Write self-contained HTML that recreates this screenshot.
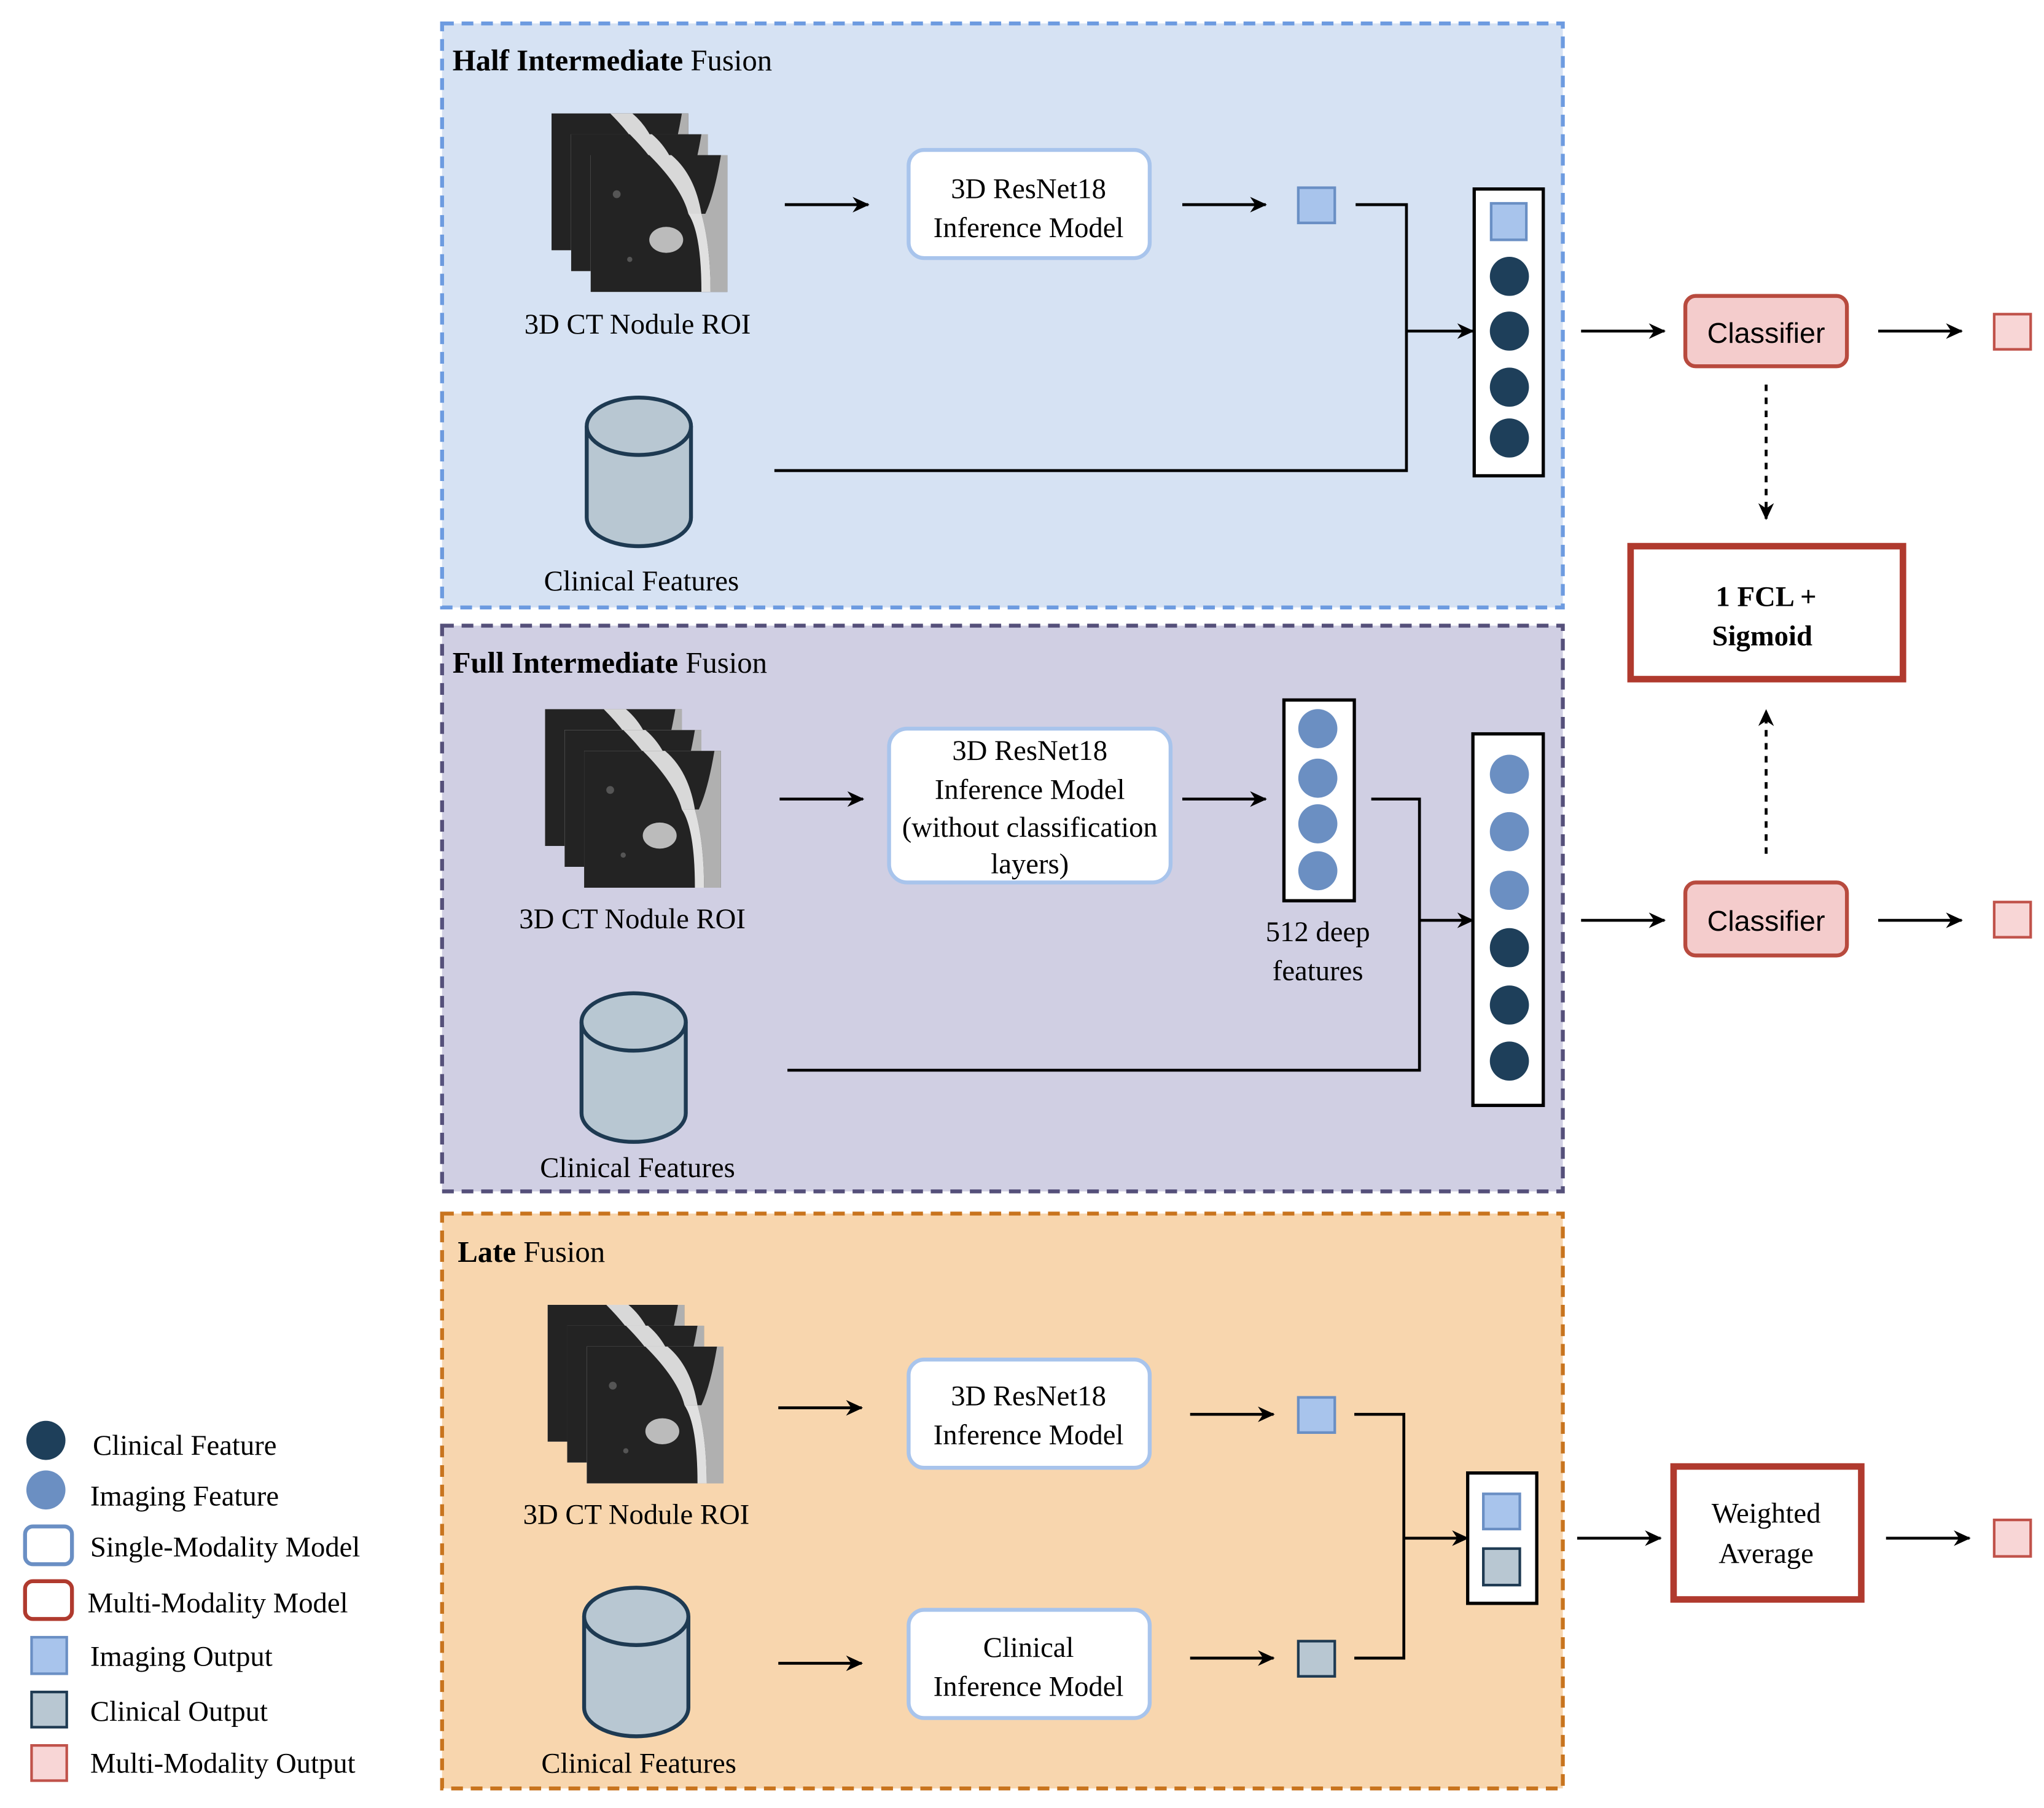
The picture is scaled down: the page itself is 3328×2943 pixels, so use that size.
<!DOCTYPE html>
<html><head><meta charset="utf-8"><style>html,body{margin:0;padding:0;background:#fff}svg{display:block}</style></head><body>
<svg xmlns="http://www.w3.org/2000/svg" width="3328" height="2943" viewBox="0 0 1568 1387" font-family="Liberation Serif, serif" font-size="22">
<defs>
<marker id="ah" markerWidth="13" markerHeight="12" refX="12" refY="6" orient="auto" markerUnits="userSpaceOnUse"><path d="M0,0 L13,6 L0,12 L4,6 Z" fill="#000"/></marker>
<symbol id="slice" viewBox="0 0 105 105">
<rect width="105" height="105" fill="#1c1c1c"/>
<rect x="0" y="0" width="105" height="105" fill="#2a2a2a" opacity="0.5"/>
<path d="M45,0 Q70,25 75,45 L85,45 Q80,15 62,0 Z" fill="#d8d8d8"/>
<path d="M85,45 Q92,70 92,105 L105,105 L105,0 L100,0 Q95,30 88,45 Z" fill="#b0b0b0"/>
<path d="M75,45 Q85,60 85,105 L92,105 Q92,70 85,45 Z" fill="#e0e0e0"/>
<ellipse cx="58" cy="65" rx="13" ry="10" fill="#bbb"/>
<circle cx="20" cy="30" r="3" fill="#555"/><circle cx="30" cy="80" r="2" fill="#555"/>
</symbol>
<g id="ct">
<rect x="0" y="0" width="105" height="105" fill="#fff"/><use href="#slice" x="0" y="0" width="105" height="105"/>
<rect x="15" y="16" width="105" height="105" fill="#fff"/><use href="#slice" x="15" y="16" width="105" height="105"/>
<rect x="30" y="32" width="105" height="105" fill="#fff"/><use href="#slice" x="30" y="32" width="105" height="105"/>
</g>
<g id="cyl">
<path d="M-40,0 L-40,70 A40,22 0 0 0 40,70 L40,0" fill="#b8c7d2" stroke="#1e3a52" stroke-width="3"/>
<ellipse cx="0" cy="0" rx="40" ry="22" fill="#b8c7d2" stroke="#1e3a52" stroke-width="3"/>
</g>
</defs>
<g stroke-width="3" stroke-dasharray="9,6">
<rect x="339" y="18" width="860" height="448" fill="#d6e2f3" stroke="#6d9be0"/>
<rect x="339" y="480" width="860" height="434" fill="#d0cfe3" stroke="#55507a"/>
<rect x="339" y="931" width="860" height="441" fill="#f8d6ae" stroke="#c8741e"/>
</g>
<g stroke="#000" stroke-width="2.2" fill="none" marker-end="url(#ah)">
<line x1="602" y1="157" x2="666" y2="157"/><line x1="907" y1="157" x2="971" y2="157"/>
<line x1="1079" y1="254" x2="1130" y2="254"/><line x1="1213" y1="254" x2="1277" y2="254"/><line x1="1441" y1="254" x2="1505" y2="254"/>
<line x1="598" y1="613" x2="662" y2="613"/><line x1="907" y1="613" x2="971" y2="613"/>
<line x1="1089" y1="706" x2="1130" y2="706"/><line x1="1213" y1="706" x2="1277" y2="706"/><line x1="1441" y1="706" x2="1505" y2="706"/>
<line x1="597" y1="1080" x2="661" y2="1080"/><line x1="913" y1="1085" x2="977" y2="1085"/>
<line x1="597" y1="1276" x2="661" y2="1276"/><line x1="913" y1="1272" x2="977" y2="1272"/>
<line x1="1077" y1="1180" x2="1126" y2="1180"/><line x1="1210" y1="1180" x2="1274" y2="1180"/><line x1="1447" y1="1180" x2="1511" y2="1180"/>
<line x1="1355" y1="295" x2="1355" y2="398" stroke-dasharray="5,5"/>
<line x1="1355" y1="655" x2="1355" y2="545" stroke-dasharray="5,5"/>
</g>
<g stroke="#000" stroke-width="2.2" fill="none">
<polyline points="1040,157 1079,157 1079,361 594,361"/>
<polyline points="1052,613 1089,613 1089,821 604,821"/>
<polyline points="1039,1085 1077,1085 1077,1272 1039,1272"/>
</g>
<use href="#ct" x="423" y="87"/><use href="#ct" x="418" y="544"/><use href="#ct" x="420" y="1001"/>
<use href="#cyl" x="490" y="327"/><use href="#cyl" x="486" y="784"/><use href="#cyl" x="488" y="1240"/>
<g fill="#fff" stroke="#a8c4ec" stroke-width="3">
<rect x="697" y="115" width="185" height="83" rx="12"/>
<rect x="682" y="559" width="216" height="118" rx="14"/>
<rect x="697" y="1043" width="185" height="83" rx="12"/>
<rect x="697" y="1235" width="185" height="83" rx="12"/>
</g>
<g fill="#fff" stroke="#000" stroke-width="2.5">
<rect x="1131" y="145" width="53" height="220"/>
<rect x="985" y="537" width="54" height="154"/>
<rect x="1130" y="563" width="54" height="285"/>
<rect x="1126" y="1130" width="53" height="100"/>
</g>
<g fill="#a8c4ec" stroke="#6a8fc4" stroke-width="2">
<rect x="996" y="144" width="28" height="27"/><rect x="1144" y="156" width="27" height="28"/>
<rect x="996" y="1072" width="28" height="27"/><rect x="1138" y="1146" width="28" height="27"/>
<rect x="24" y="1256" width="27" height="28"/>
</g>
<g fill="#b8c7d2" stroke="#1e3a52" stroke-width="2">
<rect x="996" y="1259" width="28" height="27"/><rect x="1138" y="1188" width="28" height="28"/>
<rect x="24" y="1298" width="27" height="27"/>
</g>
<g fill="#1e3f5a">
<circle cx="1158" cy="212" r="15"/><circle cx="1158" cy="254" r="15"/><circle cx="1158" cy="297" r="15"/><circle cx="1158" cy="336" r="15"/>
<circle cx="1158" cy="727" r="15"/><circle cx="1158" cy="771" r="15"/><circle cx="1158" cy="814" r="15"/>
<circle cx="35" cy="1105" r="15"/>
</g>
<g fill="#6b8fc2">
<circle cx="1011" cy="559" r="15"/><circle cx="1011" cy="597" r="15"/><circle cx="1011" cy="632" r="15"/><circle cx="1011" cy="668" r="15"/>
<circle cx="1158" cy="594" r="15"/><circle cx="1158" cy="638" r="15"/><circle cx="1158" cy="683" r="15"/>
<circle cx="35" cy="1143" r="15"/>
</g>
<g fill="#f4cccc" stroke="#b84a3e" stroke-width="3">
<rect x="1293" y="227" width="124" height="54" rx="8"/><rect x="1293" y="677" width="124" height="56" rx="8"/>
</g>
<g fill="#f8d6d6" stroke="#c0524a" stroke-width="2">
<rect x="1530" y="241" width="28" height="27"/><rect x="1530" y="692" width="28" height="27"/><rect x="1530" y="1166" width="28" height="28"/>
<rect x="24" y="1339" width="27" height="27"/>
</g>
<g fill="#fff" stroke="#b03a2e" stroke-width="5">
<rect x="1251" y="419" width="209" height="102"/><rect x="1284" y="1125" width="144" height="102"/>
</g>
<rect x="19" y="1171" width="36" height="29" rx="6" fill="#fff" stroke="#6a8fc4" stroke-width="3"/>
<rect x="19" y="1213" width="36" height="29" rx="6" fill="#fff" stroke="#b03a2e" stroke-width="3"/>
<g fill="#000">
<g font-size="23">
<text x="347" y="54"><tspan font-weight="bold">Half Intermediate</tspan> Fusion</text>
<text x="347" y="516"><tspan font-weight="bold">Full Intermediate</tspan> Fusion</text>
<text x="351" y="968"><tspan font-weight="bold">Late</tspan> Fusion</text>
</g>
<g text-anchor="middle">
<text x="489" y="256">3D CT Nodule ROI</text><text x="492" y="453">Clinical Features</text>
<text x="789" y="152">3D ResNet18</text><text x="789" y="182">Inference Model</text>
<text x="485" y="712">3D CT Nodule ROI</text><text x="489" y="903">Clinical Features</text>
<text x="790" y="583">3D ResNet18</text><text x="790" y="613">Inference Model</text><text x="790" y="642">(without classification</text><text x="790" y="670">layers)</text>
<text x="1011" y="722">512 deep</text><text x="1011" y="752">features</text>
<text x="488" y="1169">3D CT Nodule ROI</text><text x="490" y="1360">Clinical Features</text>
<text x="789" y="1078">3D ResNet18</text><text x="789" y="1108">Inference Model</text>
<text x="789" y="1271">Clinical</text><text x="789" y="1301">Inference Model</text>
<text x="1355" y="263" font-family="Liberation Sans, sans-serif">Classifier</text>
<text x="1355" y="714" font-family="Liberation Sans, sans-serif">Classifier</text>
<text x="1355" y="465" font-weight="bold">1 FCL +</text><text x="1352" y="495" font-weight="bold">Sigmoid</text>
<text x="1355" y="1168">Weighted</text><text x="1355" y="1199">Average</text>
</g>
<text x="71" y="1116">Clinical Feature</text>
<text x="69" y="1155">Imaging Feature</text>
<text x="69" y="1194">Single-Modality Model</text>
<text x="67" y="1237">Multi-Modality Model</text>
<text x="69" y="1278">Imaging Output</text>
<text x="69" y="1320">Clinical Output</text>
<text x="69" y="1360">Multi-Modality Output</text>
</g>
</svg>
</body></html>
